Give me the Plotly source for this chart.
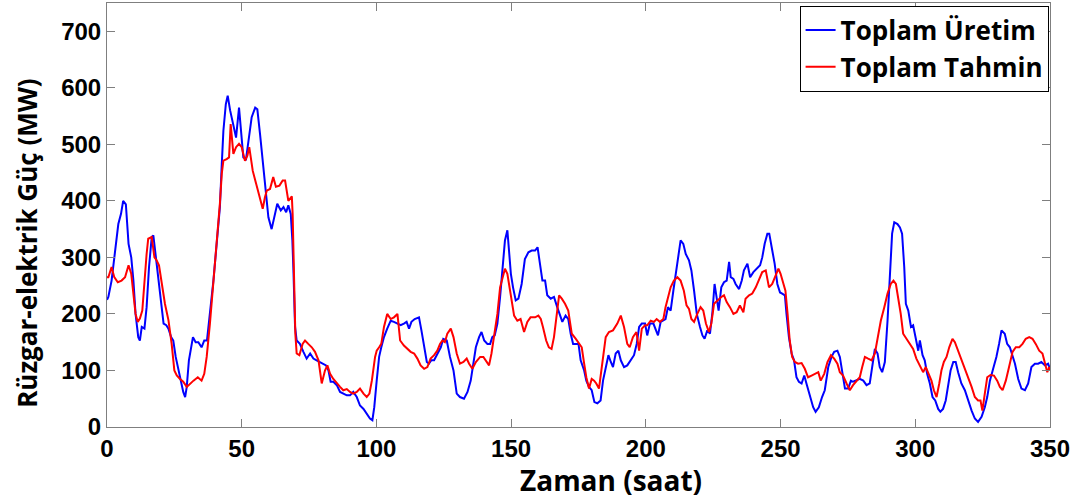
import plotly.graph_objects as go

# ---- data (hour, MW) ----
uretim_saat = [0,0.5,1.7,3,4.2,5.2,6,7,8,9,9.8,10.6,11.6,12.2,12.9,13.9,14.7,15.6,16.6,17.2,18,19,20,21,22,22.8,23.8,24.6,25.5,26.5,27.5,28.3,29,29.6,30.4,31.2,31.9,32.9,33.9,35.1,36.1,37.1,38.2,39.5,40.7,41.9,42.6,43.2,44.1,44.8,45.7,46.9,47.9,49,
50.6,51.6,52.5,53.7,55,55.8,56.8,57.8,58.8,59.9,61.1,62.4,63.2,64.5,65.5,66.5,67.3,68.2,68.8,69.2,69.8,70.4,71.6,72.9,74.1,75.4,76.6,77.8,79.1,80.3,81.3,82.2,83,84,85.3,86.5,87.7,89,90.2,91.4,92.7,93.9,95.2,96.4,97.6,98.5,
99.2,100.1,101,101.8,102.8,104,105.3,106.5,107.8,109,110.2,111.2,112.1,113,114.2,115.8,116.7,117.7,118.7,119.5,120.4,121.4,122.6,123.9,124.8,126.1,127.3,128.6,129.8,131,132.5,133.8,135,136,136.9,138.1,139,140,141.2,142.2,143,143.9,144.9,145.9,146.8,147.7,148.6,
149.9,150.7,151.7,152.7,153.9,155.1,156.4,157.6,158.9,159.8,160.6,161.6,162.6,163.4,164.7,165.9,167.1,168,169,170.2,171.2,172.1,173,174,175,175.8,177.1,177.9,178.9,179.9,180.9,182,183.2,184.1,185.1,186.1,187,187.8,188.8,189.8,190.7,191.9,193.1,194.4,195.6,196.6,197.5,198.5,199.7,
200.5,201.5,202.8,203.6,204.5,205.5,206.5,207.3,208.2,209.2,210.2,211.2,212.2,212.9,213.9,214.8,216,216.9,217.9,218.9,220.1,221,221.8,222.8,223.8,224.7,225.5,226.3,227,228,229,230,230.9,231.5,232.5,233.3,234.6,235.6,236.4,237.7,238.7,239.9,241.1,242.4,243.2,244.1,245.1,245.8,246.7,247.8,248.8,249.8,
250.6,251.6,252.2,253.1,254.1,255,255.9,256.8,257.8,258.8,259.6,260.9,262.1,263,264.2,265.4,266.4,267.7,268.9,269.9,271.1,272,272.9,273.9,275.1,276.1,276.9,278.2,279.4,280.7,281.9,283.1,284,285,286,286.8,287.7,288.7,289.7,290.6,291.4,292.2,293.4,294.3,295.1,295.9,296.5,297.4,298.4,299.2,
300.2,301.1,301.7,302.7,303.5,304.4,305.4,306.4,307.4,308.5,309.3,310.3,311.3,312.2,313.1,314.1,315,315.9,317.1,318.4,319.6,320.9,322.1,323.3,324.6,325.8,326.7,327.7,328.9,330.1,331.1,332,333.2,334.1,335.1,336.1,337,338.2,339.4,340.7,341.9,343.1,344.4,345.6,346.8,348.1,349.3,350]
uretim_mw = [225,230,259,306,359,377,400,394,324,300,259,200,159,153,177,174,212,283,336,339,306,271,230,183,180,174,159,153,124,100,77,62,53,71,118,141,159,150,150,141,153,153,200,259,324,389,465,524,571,586,560,536,512,565,
477,474,506,548,565,562,518,471,424,371,350,377,395,383,389,380,392,377,330,277,177,153,147,133,121,130,121,118,115,112,109,100,80,80,74,62,59,56,56,62,53,38,32,24,15,12,
35,82,124,141,159,174,188,186,183,180,183,186,174,186,191,194,171,141,115,112,118,118,130,141,156,153,124,100,59,53,50,62,82,115,141,159,168,153,147,147,159,162,183,230,289,330,348,
271,247,224,227,253,297,309,312,312,318,289,259,259,233,227,230,212,200,186,197,191,165,147,147,147,118,100,82,71,65,44,42,47,82,106,127,115,106,130,135,118,106,109,118,127,147,177,183,183,
162,183,183,174,162,186,188,191,212,206,241,277,312,330,324,306,295,277,241,200,177,162,156,171,165,203,253,224,206,247,256,259,292,265,262,253,244,259,277,289,265,274,280,286,300,324,342,342,318,289,253,238,
236,233,200,159,130,118,88,80,77,91,77,53,35,27,35,53,65,106,124,133,135,124,97,68,68,82,80,82,85,82,74,77,106,138,130,106,97,115,188,271,342,362,359,353,342,283,218,206,177,180,
155,135,153,127,118,94,77,53,47,32,27,32,47,71,100,115,115,97,77,65,47,29,15,9,18,35,53,82,103,124,147,171,165,147,141,127,112,85,68,65,77,106,112,112,115,109,112,103]

tahmin_saat = [0,0.5,1.7,2.7,4,5.4,6.7,8,9,9.8,10.6,11.4,12.2,13.1,13.9,14.7,15.3,16.6,17.6,18.4,19.3,20.3,21.5,22.8,24,25,25.9,27.1,28.3,29.6,30.8,32.1,33.7,35.1,36.1,37,38.2,39.5,40.7,41.9,42.6,43.2,44.4,45.3,45.9,46.9,47.9,49,50,
50.6,51.2,52.1,52.8,54.1,55.3,56.6,57.8,58.6,59.3,60.5,61.7,62.7,64,65.2,66.1,67.3,67.9,68.6,68.9,69.4,69.9,70.4,71.4,72.6,73.5,74.7,76,77.2,78.5,79.7,80.9,81.8,82.8,84,85.3,86.5,87.7,89,90.2,91.4,92.7,93.9,95.2,96.4,97.4,98.3,99.5,
100.1,101,101.8,102.8,104,105.3,106.5,107.8,108.8,110.2,111.5,112.7,114,115.2,116.4,117.7,118.9,120.1,121.4,122.6,123.6,124.5,125.4,126.3,127.6,128.6,129.8,131,132.3,133.5,134.4,135.6,136.9,138.5,139.7,140.9,141.8,142.7,143.9,144.9,145.9,146.8,147.7,148.6,149.9,
150.2,151.1,152.3,153.5,154.8,156,157.2,158.9,160.1,161,161.8,163,164,165,165.9,166.8,167.8,168.8,170,171.2,172.5,174,175.2,176.2,177.1,177.9,178.9,179.9,180.8,181.6,182.6,183.9,185.1,186.3,187.8,189.4,190.7,191.9,193.1,194,195.2,196.5,197.5,198.5,199.7,
200.5,201.8,203,204,205.2,206.5,207.3,208.2,209.2,210.4,211.7,212.9,214.1,215.1,216,216.9,217.9,219.1,220.3,221.3,222.3,223.4,224.3,225.3,226.5,228,229,230,231.2,232.5,233.7,234.9,236.2,237,238.3,239.5,240.8,242,243.2,244.5,245.7,246.9,248.2,249.2,250,
251,251.8,252.6,253.4,254.3,255.3,256.5,257.8,259,260.2,261.5,262.7,264,264.9,266.2,267.4,268.7,269.9,271.1,272,273.2,274.5,275.7,276.9,278.2,279.4,280.3,281.3,282.5,283.8,285,286,287.2,288.5,289.7,290.9,291.9,292.8,293.7,294.6,295.5,296.8,298,299.2,
300.4,301.7,302.9,303.9,305.1,306,306.9,307.9,308.9,309.7,310.6,311.6,312.6,313.8,314.7,315.9,317.1,318.4,319.6,320.9,322.1,323.3,324.2,324.9,325.8,326.7,327.9,329.2,330.4,331.4,332.4,333.6,334.8,336.1,337.3,338.6,339.8,341,342.3,343.5,344.7,346,347.2,348.1,349,349.7,350]
tahmin_mw = [265,265,283,265,256,259,265,286,271,236,200,186,192,206,259,306,333,336,300,295,286,253,218,189,147,100,91,85,80,71,77,82,88,82,94,124,183,253,324,395,448,471,474,477,536,483,495,501,495,
483,471,480,495,453,430,409,386,406,418,421,442,425,427,436,436,400,403,408,377,259,165,130,127,147,153,147,141,133,118,77,100,109,94,85,77,71,65,67,62,59,62,68,59,53,59,82,124,
135,141,147,177,200,191,194,200,153,144,138,133,130,121,109,103,106,121,127,135,147,153,150,165,174,159,130,112,115,121,112,103,115,124,124,115,109,130,165,200,247,265,280,271,230,
218,197,188,191,168,186,194,194,197,191,177,153,141,138,159,200,233,227,218,206,165,156,147,141,112,88,68,85,82,77,68,118,159,168,171,183,197,177,147,141,159,168,135,174,180,
180,188,186,191,186,191,212,230,247,259,265,259,241,215,209,191,186,200,212,206,183,168,183,218,224,230,233,221,212,200,203,215,203,227,233,236,247,259,274,277,247,253,268,280,271,
255,241,200,153,124,115,112,113,103,88,91,94,97,82,94,115,127,121,112,97,91,77,65,74,82,88,106,124,121,118,130,159,188,212,236,253,259,253,230,200,165,156,147,138,
121,109,97,106,94,82,65,53,77,100,115,124,141,156,150,135,121,106,88,71,53,47,47,29,59,88,92,91,82,71,65,82,106,133,141,141,147,156,159,156,147,135,130,115,97,106,100]

x_ticks = [0, 50, 100, 150, 200, 250, 300, 350]
y_ticks = [0, 100, 200, 300, 400, 500, 600, 700]

BOLD = "Open Sans"
TICKFONT = dict(family="Liberation Sans Narrow, Liberation Sans, Arial", size=24, color="black", weight="bold")

fig = go.Figure()
fig.add_trace(go.Scatter(x=uretim_saat, y=uretim_mw, mode="lines", name="Toplam Üretim",
                         line=dict(color="#0000FF", width=2)))
fig.add_trace(go.Scatter(x=tahmin_saat, y=tahmin_mw, mode="lines", name="Toplam Tahmin",
                         line=dict(color="#FF0000", width=2)))

axis_common = dict(showgrid=False, zeroline=False, showline=True, linecolor="#7f7f7f", linewidth=1,
                   mirror="allticks", ticks="inside", ticklen=8, tickcolor="#7f7f7f", tickwidth=1,
                   tickfont=TICKFONT)
fig.update_xaxes(range=[0, 350], tickvals=x_ticks, ticktext=[str(v) for v in x_ticks], **axis_common)
fig.update_yaxes(range=[0, 750], tickvals=y_ticks, ticktext=[str(v) for v in y_ticks], **axis_common)

fig.update_layout(
    width=1085, height=503,
    margin=dict(l=107, r=35, t=3, b=76),
    paper_bgcolor="white", plot_bgcolor="white",
    showlegend=True,
    legend=dict(x=0.9985, y=0.994, xanchor="right", yanchor="top",
                bgcolor="white", bordercolor="black", borderwidth=1,
                font=dict(family=BOLD, size=26, color="black", weight="bold"),
                tracegroupgap=0, itemwidth=30),
    annotations=[
        dict(text="Zaman (saat)", xref="paper", yref="paper", x=0.534, y=-0.125,
             xanchor="center", yanchor="middle", showarrow=False,
             font=dict(family=BOLD, size=28, color="black", weight="bold")),
        dict(text="Rüzgar-elektrik Güç (MW)", xref="paper", yref="paper", x=-0.085, y=0.434,
             xanchor="center", yanchor="middle", textangle=-90, showarrow=False,
             font=dict(family=BOLD, size=26, color="black", weight="bold")),
    ],
)

fig.write_html("out.html")
